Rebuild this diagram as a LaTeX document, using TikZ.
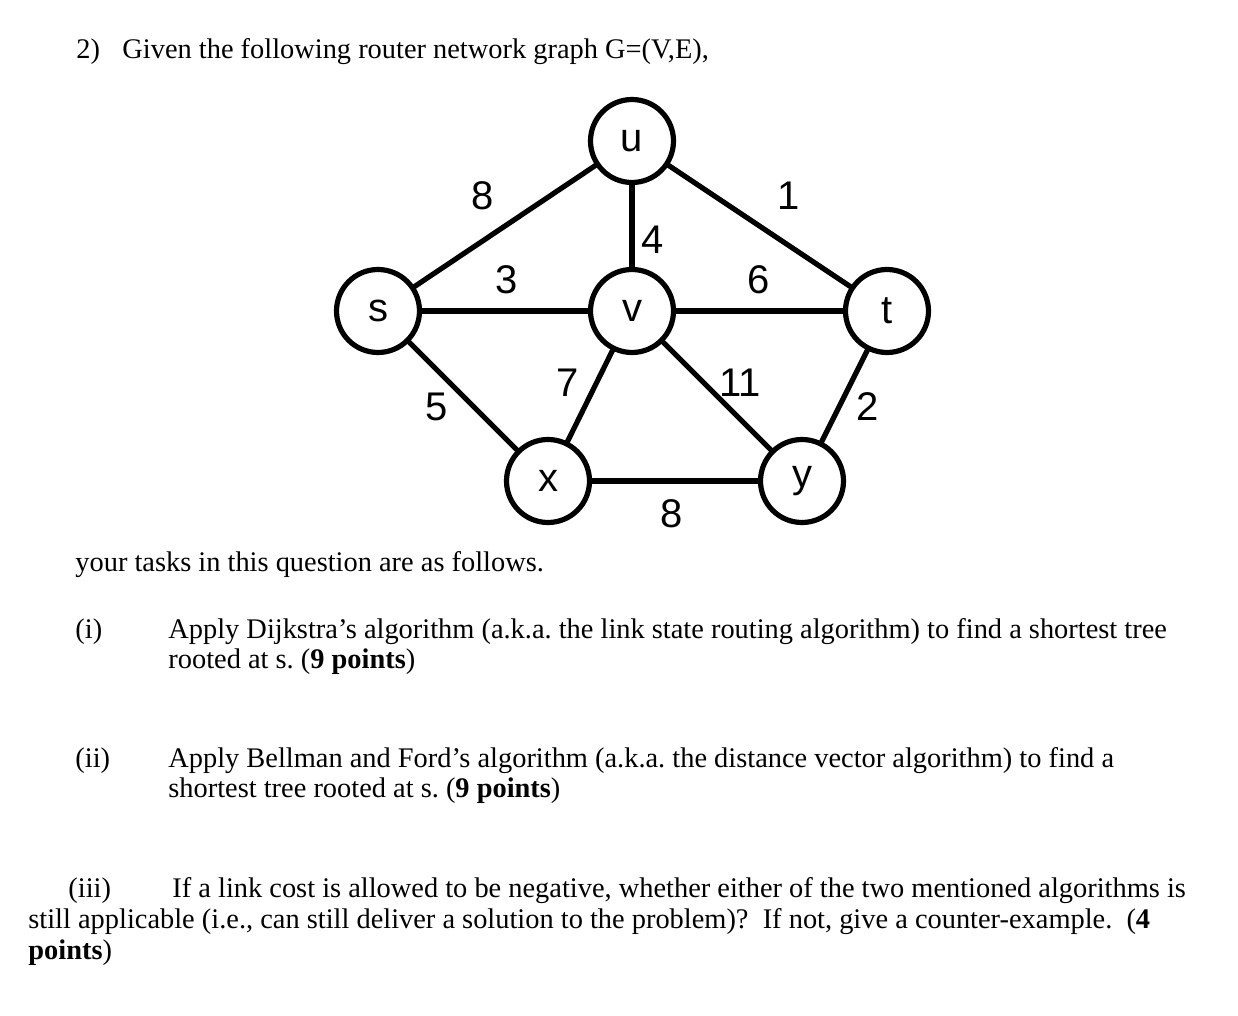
\documentclass[tikz,border=0pt]{standalone}
\usepackage{fontspec}
\setmainfont{Liberation Serif}
\newfontfamily\arialfont{Liberation Sans}
\usetikzlibrary{positioning}
\frenchspacing

\tikzset{
  router/.style={circle, draw, line width=2.6pt, minimum size=41.5pt, inner sep=0pt,
    font=\arialfont\fontsize{20}{20}\selectfont},
  link/.style={line width=2.6pt},
  cost/.style={font=\arialfont\fontsize{20}{20}\selectfont, inner sep=0pt},
  txt/.style={anchor=base west, inner sep=0pt, font=\fontsize{14.2}{16}\selectfont}
}

\begin{document}
\begin{tikzpicture}[x=0.5pt, y=-0.5pt, line cap=round, line join=round]
  % page frame in pixel units
  \useasboundingbox (0,0) rectangle (1238,1016);

  % question heading
  \node[txt] (qnum) at (76,59) {2)};
  \node[txt] (qhead) at (122,59) {Given the following router network graph G=(V,E),};

  % routers
  \node[router] (u) at (632,141) {u};
  \node[router] (s) at (378,311) {s};
  \node[router] (v) at (632,311) {v};
  \node[router] (t) at (887,311) {t};
  \node[router] (x) at (548,481) {x};
  \node[router] (y) at (802,481) {y};

  % links
  \draw[link] (s) -- (u);
  \draw[link] (u) -- (t);
  \draw[link] (u) -- (v);
  \draw[link] (s) -- (v);
  \draw[link] (v) -- (t);
  \draw[link] (s) -- (x);
  \draw[link] (v) -- (x);
  \draw[link] (v) -- (y);
  \draw[link] (t) -- (y);
  \draw[link] (x) -- (y);

  % link costs
  \node[cost] (csu) at (483,196) {8};
  \node[cost] (cut) at (789,196) {1};
  \node[cost] (cuv) at (653,240) {4};
  \node[cost] (csv) at (507,280) {3};
  \node[cost] (cvt) at (759,280) {6};
  \node[cost] (cvx) at (568,383) {7};
  \node[cost] (csx) at (437,407) {5};
  \node[cost] (cvy) at (740,383) {11};
  \node[cost] (cty) at (868,407) {2};
  \node[cost] (cxy) at (672,514) {8};

  % tasks
  \node[txt] (intro) at (75,571) {your tasks in this question are as follows.};

  \node[txt] (ione) at (75,638) {(i)};
  \node[txt] (tone) at (168,638) {Apply Dijkstra’s algorithm (a.k.a. the link state routing algorithm) to find a shortest tree};
  \node[txt] (tonea) at (168,668) {rooted at s. (\textbf{9 points})};

  \node[txt] (itwo) at (75,767) {(ii)};
  \node[txt] (ttwo) at (168,767) {Apply Bellman and Ford’s algorithm (a.k.a. the distance vector algorithm) to find a};
  \node[txt] (ttwoa) at (168,797) {shortest tree rooted at s. (\textbf{9 points})};

  \node[txt] (ithree) at (68,897) {(iii)};
  \node[txt] (tthree) at (172,897) {If a link cost is allowed to be negative, whether either of the two mentioned algorithms is};
  \node[txt] (tthreea) at (28,928) {still applicable (i.e., can still deliver a solution to the problem)?\ \ If not, give a counter-example.\ \ (\textbf{4}};
  \node[txt] (tthreeb) at (28,959) {\textbf{points})};
\end{tikzpicture}
\end{document}
